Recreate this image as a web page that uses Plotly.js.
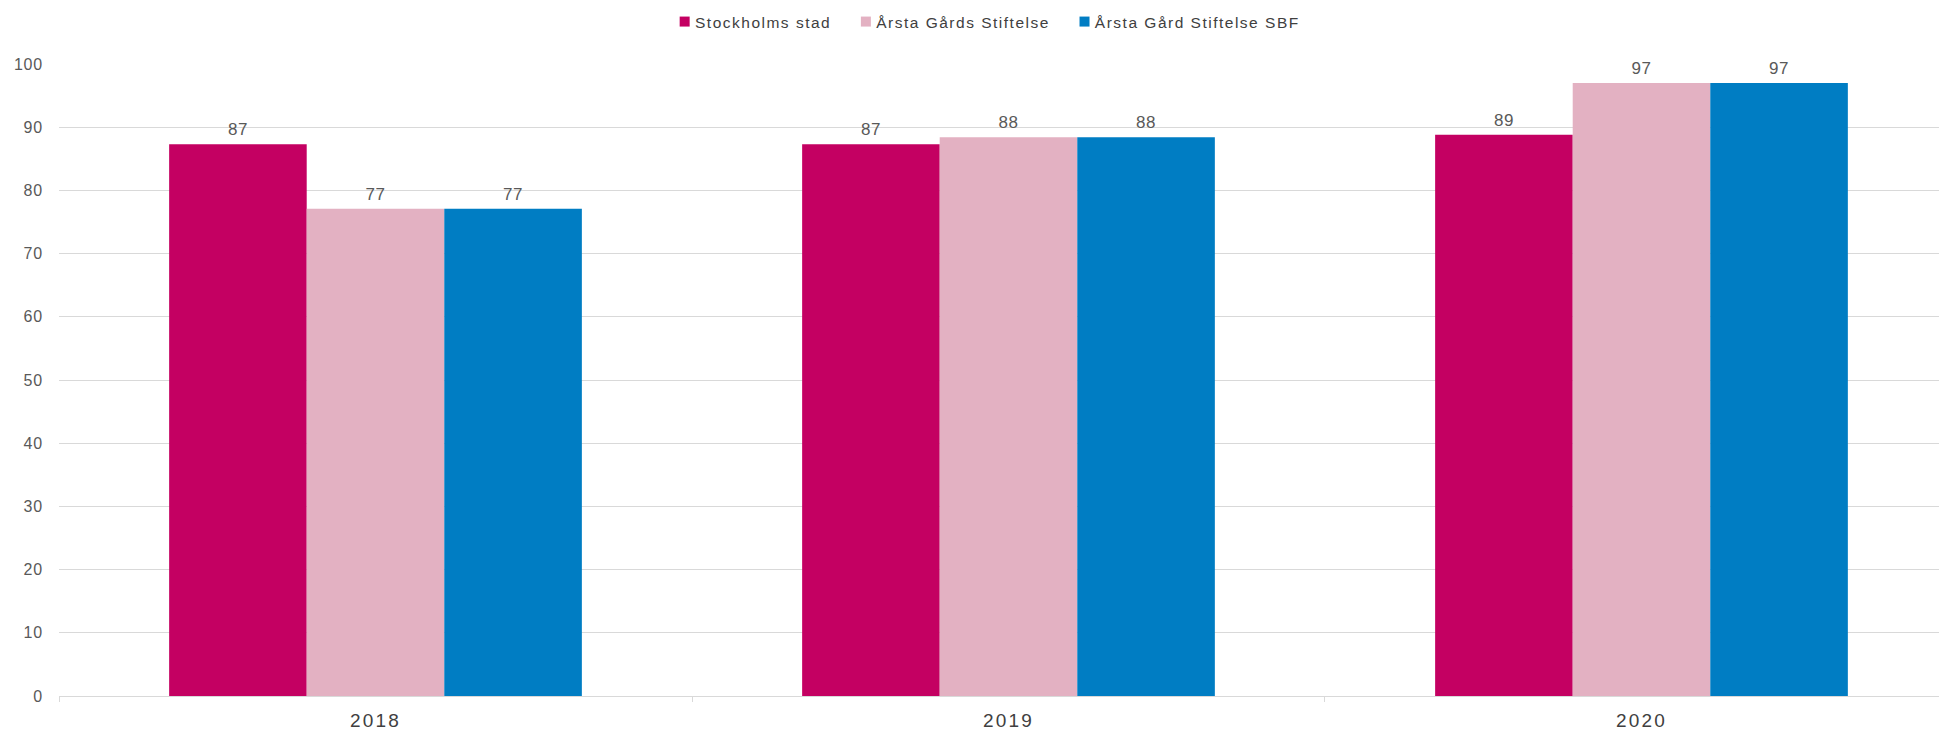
<!DOCTYPE html>
<html>
<head>
<meta charset="utf-8">
<script src="https://cdn.plot.ly/plotly-3.0.1.min.js"></script>
<style>
html,body{margin:0;padding:0;background:#fff;}
#chart{width:1939px;height:733px;}
.legendtext{letter-spacing:1.5px;}
.xtick text{letter-spacing:2.2px;}
.ytick text{letter-spacing:0.8px;}
.bartext{letter-spacing:0.5px;}
</style>
</head>
<body>
<div id="chart"></div>
<script>
const years = ['2018', '2019', '2020'];
const seriesNames = ['Stockholms stad', 'Årsta Gårds Stiftelse', 'Årsta Gård Stiftelse SBF'];
const stockholm = [87.3, 87.3, 88.8];
const arstaGards = [77.1, 88.4, 97.0];
const arstaGardSBF = [77.1, 88.4, 97.0];
const colors = ['#C40062', '#E3B1C2', '#007DC3'];
const yTicks = [0, 10, 20, 30, 40, 50, 60, 70, 80, 90, 100];

const values = [stockholm, arstaGards, arstaGardSBF];
const traces = values.map((v, i) => ({
  type: 'bar',
  name: seriesNames[i],
  x: years,
  y: v,
  marker: {color: colors[i], line: {width: 0}},
  texttemplate: '%{y:.0f}',
  textposition: 'outside',
  cliponaxis: false,
  textfont: {family: 'Liberation Sans, Arial, sans-serif', size: 17, color: '#595959'},
  hoverinfo: 'skip'
}));

const layout = {
  width: 1939,
  height: 733,
  margin: {l: 59, r: 0, t: 64, b: 37},
  paper_bgcolor: '#fff',
  plot_bgcolor: '#fff',
  barmode: 'group',
  bargap: 0.348,
  bargroupgap: 0,
  font: {family: 'Liberation Sans, Arial, sans-serif', color: '#595959'},
  showlegend: true,
  legend: {
    orientation: 'h',
    xref: 'container', yref: 'container',
    x: 0.3378, xanchor: 'left',
    y: 0.970, yanchor: 'middle',
    font: {size: 15.5, color: '#404040'},
    itemwidth: 30,
    traceorder: 'normal'
  },
  xaxis: {
    type: 'category',
    range: [-0.5, 2.47],
    showgrid: false,
    showline: true,
    linecolor: '#d9d9d9',
    linewidth: 1,
    ticks: 'outside',
    tickson: 'boundaries',
    ticklen: 5,
    tickcolor: '#d9d9d9',
    ticklabelstandoff: 7,
    tickfont: {size: 19, color: '#404040'},
    zeroline: false
  },
  yaxis: {
    range: [0, 100],
    tickvals: yTicks,
    showgrid: true,
    gridcolor: '#d9d9d9',
    gridwidth: 1,
    zeroline: false,
    showline: false,
    ticks: '',
    ticklabelstandoff: 15,
    tickfont: {size: 16, color: '#595959'}
  }
};

Plotly.newPlot('chart', traces, layout, {staticPlot: true, displayModeBar: false}).then(gd => {
  gd.querySelectorAll('.legendpoints path').forEach(p => {
    const t = p.getAttribute('transform') || '';
    p.setAttribute('transform', 'translate(13,0) scale(0.833) ' + t);
  });
  gd.querySelectorAll('text.bartext').forEach(t => {
    const tr = t.getAttribute('transform') || '';
    t.setAttribute('transform', 'translate(0,-2) ' + tr);
  });
});
</script>
</body>
</html>
